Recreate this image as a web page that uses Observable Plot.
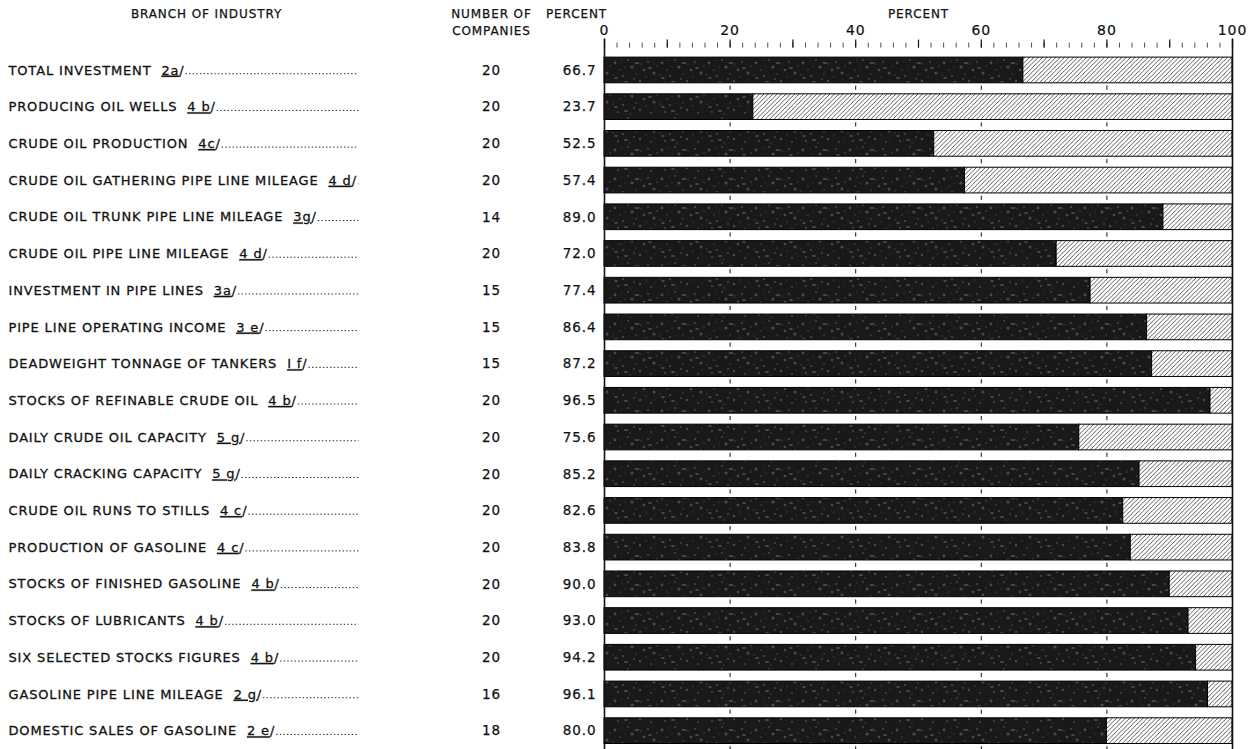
<!DOCTYPE html>
<html><head><meta charset="utf-8">
<script src="https://cdn.jsdelivr.net/npm/d3@7"></script>
<script src="https://cdn.jsdelivr.net/npm/@observablehq/plot@0.6"></script>
<style>
body{margin:0;background:#fff;}
#chart svg{font-family:"DejaVu Sans",sans-serif;letter-spacing:0.9px;}
#chart svg .rowlabel text{letter-spacing:0.85px;}
#chart svg text{paint-order:stroke;}
</style></head><body><div id="chart"></div>
<script>
const branches = [
  "TOTAL INVESTMENT",
  "PRODUCING OIL WELLS",
  "CRUDE OIL PRODUCTION",
  "CRUDE OIL GATHERING PIPE LINE MILEAGE",
  "CRUDE OIL TRUNK PIPE LINE MILEAGE",
  "CRUDE OIL PIPE LINE MILEAGE",
  "INVESTMENT IN PIPE LINES",
  "PIPE LINE OPERATING INCOME",
  "DEADWEIGHT TONNAGE OF TANKERS",
  "STOCKS OF REFINABLE CRUDE OIL",
  "DAILY CRUDE OIL CAPACITY",
  "DAILY CRACKING CAPACITY",
  "CRUDE OIL RUNS TO STILLS",
  "PRODUCTION OF GASOLINE",
  "STOCKS OF FINISHED GASOLINE",
  "STOCKS OF LUBRICANTS",
  "SIX SELECTED STOCKS FIGURES",
  "GASOLINE PIPE LINE MILEAGE",
  "DOMESTIC SALES OF GASOLINE"
];
const footnotes = ["2a","4 b","4c","4 d","3g","4 d","3a","3 e","I f","4 b","5 g","5 g","4 c","4 c","4 b","4 b","4 b","2 g","2 e"];
const companies = [20,20,20,20,14,20,15,15,15,20,20,20,20,20,20,20,20,16,18];
const percents = [66.7,23.7,52.5,57.4,89.0,72.0,77.4,86.4,87.2,96.5,75.6,85.2,82.6,83.8,90.0,93.0,94.2,96.1,80.0];
const axisLabels = [0,20,40,60,80,100];
const minorTicks = d3.range(0,101,2);
const majorTicks = d3.range(0,101,10);
const gapTicks = [20,40,60,80];

const rows = branches.map((b,i)=>({branch:b, note:footnotes[i], n:companies[i], pct:percents[i]}));
const gapData = rows.flatMap(r => gapTicks.map(t => ({branch:r.branch, x:t})));

const mt = 51.6;
const ink = "#111";
const head = {fill:ink, fontSize:12, lineAnchor:"middle", stroke:ink, strokeWidth:0.25};
const plot = Plot.plot({
  width:1249, height:749,
  marginLeft:604, marginRight:17, marginTop:mt, marginBottom:0,
  x:{domain:[0,100], axis:null},
  y:{domain:branches, axis:null, paddingInner:0.3, paddingOuter:0.15, round:false},
  style:{fontFamily:"DejaVu Sans, sans-serif", fontSize:"12.5px", color:ink, background:"#fff"},
  marks:[
    Plot.barX(rows,{y:"branch", x1:0, x2:"pct", fill:"url(#speck)", stroke:"#000", strokeWidth:1}),
    Plot.barX(rows,{y:"branch", x1:"pct", x2:100, fill:"url(#hatch)", stroke:"#000", strokeWidth:1}),
    Plot.tickX(gapData,{x:"x", y:"branch", insetTop:21.5, dy:7, stroke:ink, strokeWidth:1}),
    Plot.ruleX([0,100],{stroke:ink, strokeWidth:1.6, insetTop:-13}),
    Plot.axisX(minorTicks,{anchor:"top", tickSize:5, tickFormat:()=>"", label:null, dy:-5, stroke:"#222", strokeWidth:0.8}),
    Plot.axisX(majorTicks,{anchor:"top", tickSize:8, tickFormat:()=>"", label:null, dy:-5, stroke:ink, strokeWidth:1.2}),
    Plot.text(axisLabels,{x:d=>d, text:d=>String(d), frameAnchor:"top", lineAnchor:"middle", dy:30-mt, fontSize:14, fill:ink, stroke:ink, strokeWidth:0.2}),
    Plot.text(["PERCENT"],{...head, frameAnchor:"top", dy:14-mt}),
    Plot.text(["BRANCH OF INDUSTRY"],{...head, frameAnchor:"top-left", textAnchor:"middle", dx:206-604, dy:14-mt}),
    Plot.text(["NUMBER OF"],{...head, frameAnchor:"top-left", textAnchor:"middle", dx:491-604, dy:14-mt}),
    Plot.text(["COMPANIES"],{...head, frameAnchor:"top-left", textAnchor:"middle", dx:491-604, dy:31-mt}),
    Plot.text(["PERCENT"],{...head, frameAnchor:"top-left", textAnchor:"middle", dx:576-604, dy:14-mt}),
    Plot.text(rows,{y:"branch", text:"branch", frameAnchor:"left", dx:8-604, textAnchor:"start", fontSize:13, fill:ink, stroke:ink, strokeWidth:0.3, className:"rowlabel"}),
    Plot.text(rows,{y:"branch", text:d=>String(d.n), frameAnchor:"left", dx:491-604, textAnchor:"middle", fontSize:13.5, fill:ink, stroke:ink, strokeWidth:0.25}),
    Plot.text(rows,{y:"branch", text:d=>d.pct.toFixed(1), frameAnchor:"left", dx:596-604, textAnchor:"end", fontSize:13.5, fill:ink, stroke:ink, strokeWidth:0.25})
  ]
});

// patterns for the bar textures
const ns = "http://www.w3.org/2000/svg";
const defs = document.createElementNS(ns,"defs");
defs.innerHTML = `
<pattern id="hatch" patternUnits="userSpaceOnUse" width="4.4" height="4.4">
  <rect width="4.4" height="4.4" fill="#fff"/>
  <path d="M-1,1 l2,-2 M0,4.4 l4.4,-4.4 M3.4,5.4 l2,-2" stroke="#111" stroke-width="0.7"/>
</pattern>
<pattern id="speck" patternUnits="userSpaceOnUse" width="47" height="29">
  <rect width="47" height="29" fill="#191919"/>
  <g fill="#858585" fill-opacity="0.45">
    <circle cx="4" cy="5" r="1.4"/><circle cx="12" cy="18" r="1.1"/><circle cx="21" cy="9" r="1.6"/>
    <circle cx="29" cy="23" r="1.2"/><circle cx="37" cy="4" r="1"/><circle cx="43" cy="15" r="1.5"/>
    <circle cx="7" cy="25" r="1"/><circle cx="17" cy="2" r="0.9"/><circle cx="33" cy="12" r="1.3"/>
    <circle cx="25" cy="16" r="0.8"/><circle cx="40" cy="26" r="0.9"/><circle cx="9" cy="12" r="0.8"/>
    <circle cx="2" cy="17" r="0.7"/><circle cx="46" cy="8" r="0.8"/><circle cx="19" cy="27" r="0.7"/>
    <circle cx="35" cy="19" r="0.7"/><circle cx="14" cy="9" r="0.6"/><circle cx="30" cy="6" r="0.7"/>
    <circle cx="23" cy="21" r="0.9"/><circle cx="44" cy="22" r="0.6"/><circle cx="11" cy="3" r="0.6"/>
    <ellipse cx="26" cy="5" rx="2.6" ry="1.1"/><ellipse cx="15" cy="24" rx="2.2" ry="1"/>
    <ellipse cx="39" cy="10" rx="2" ry="0.9"/><ellipse cx="5" cy="20" rx="1.8" ry="0.9"/>
  </g>
</pattern>`;
plot.insertBefore(defs, plot.firstChild);
document.getElementById("chart").appendChild(plot);

// row labels: underlined footnote references and dotted leaders
const leaderEnd = 358;
const labels = plot.querySelectorAll(".rowlabel text");
labels.forEach((t,i) => {
  const r = rows[i];
  if (!r) return;
  t.textContent = "";
  const a = document.createElementNS(ns,"tspan"); a.textContent = r.branch + "\u00a0\u00a0";
  const b = document.createElementNS(ns,"tspan"); b.textContent = r.note; b.setAttribute("text-decoration","underline");
  const c = document.createElementNS(ns,"tspan"); c.textContent = "/";
  t.appendChild(a); t.appendChild(b); t.appendChild(c);
  const bb = t.getBBox();
  const line = document.createElementNS(ns,"line");
  const tr = t.getAttribute("transform");
  if (tr) line.setAttribute("transform", tr);
  const x0 = bb.x + bb.width + 1;
  const yb = bb.y + bb.height * 0.74;
  line.setAttribute("x1", x0);
  line.setAttribute("x2", x0 + Math.max(0, (leaderEnd - 8) - bb.width - 1));
  line.setAttribute("y1", yb); line.setAttribute("y2", yb);
  line.setAttribute("stroke","#222"); line.setAttribute("stroke-width","1");
  line.setAttribute("stroke-dasharray","1.4,2.2");
  t.parentNode.appendChild(line);
});
</script></body></html>
